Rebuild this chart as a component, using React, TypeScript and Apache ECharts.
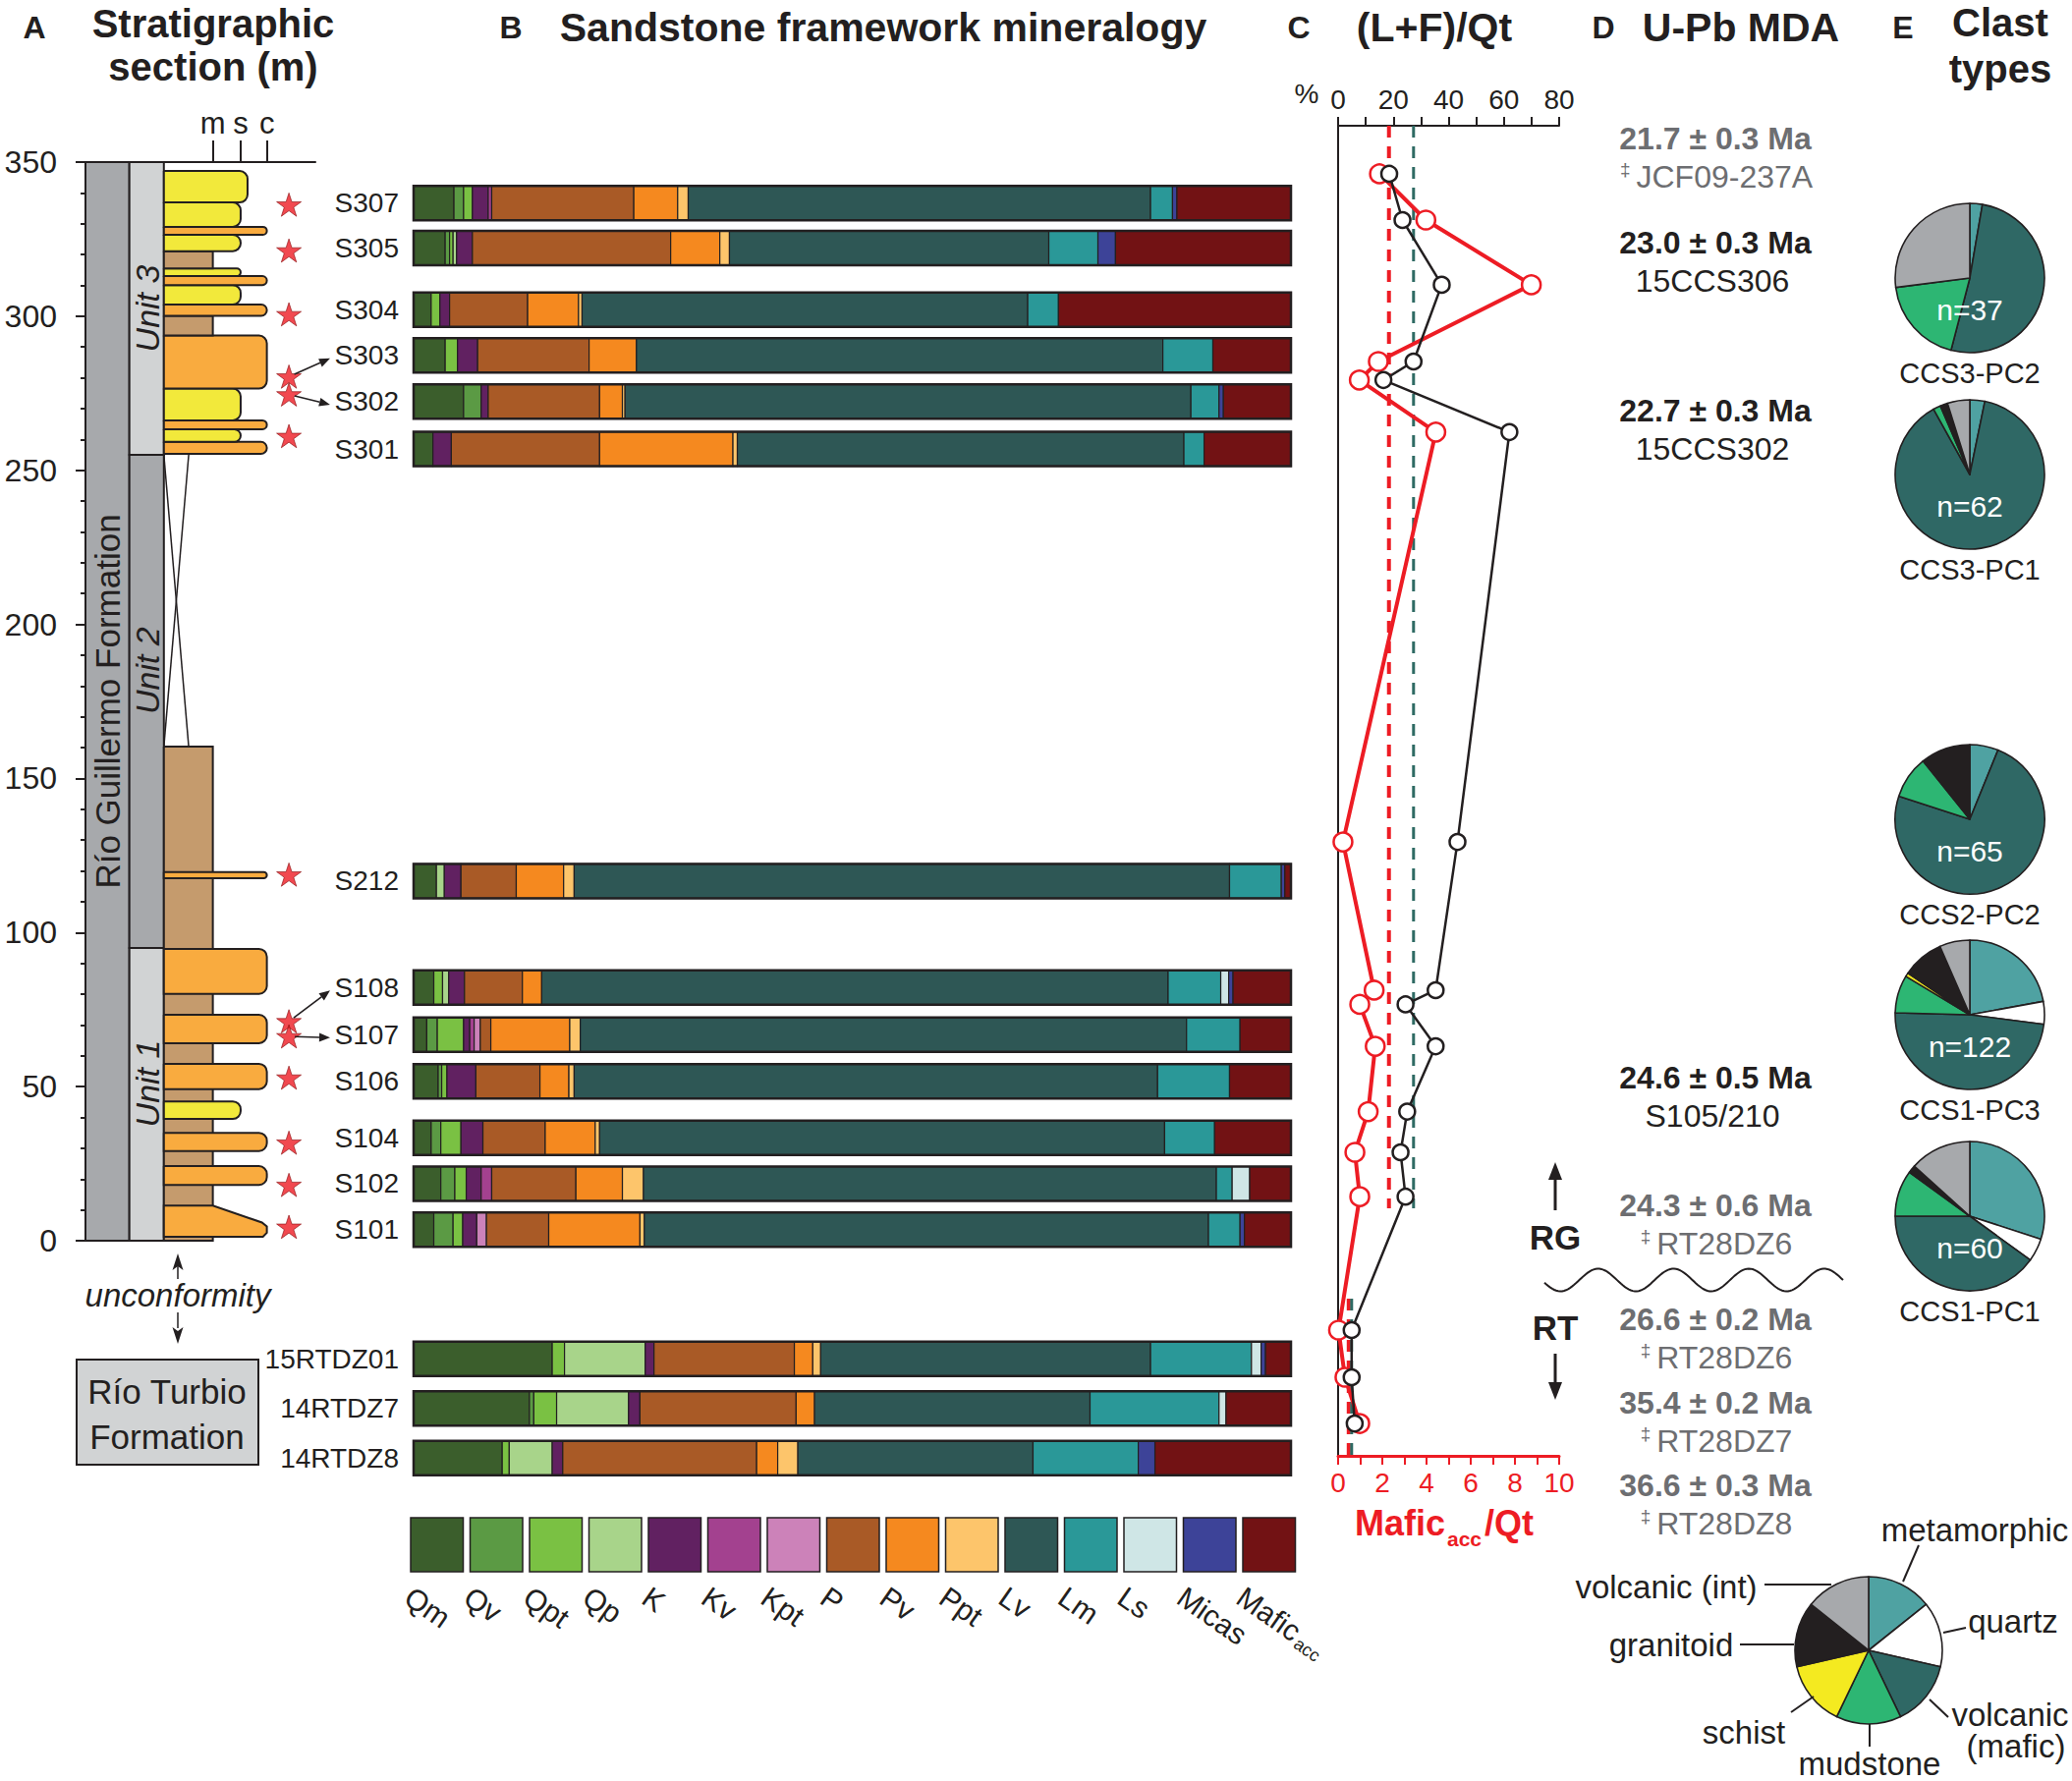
import React, { useEffect, useRef } from 'react';
import * as echarts from 'echarts';

const W = 2109;
const H = 1813;
const INK = '#231f20';
const MUTED = '#6d6e71';
const RED = '#ed1c24';
const FONT = '"Liberation Sans", Arial, Helvetica, sans-serif';

// ---------------- Panel A: stratigraphic section (heights in m) ----------------
const FORMATION_NAME = 'Río Guillermo Formation';
const UNIT_NAMES = ['Unit 1', 'Unit 2', 'Unit 3'];
const UNIT_BASES = [0, 95, 255];
const UNIT_TOPS = [95, 255, 350];
const UNIT_LABEL_HEIGHTS = [51, 185, 302.5];
const MUDSTONE_INTERVAL: [number, number] = [0, 160.3];
const COVERED_INTERVAL: [number, number] = [160.3, 255];
// [base, top, grain class (m mud, s sand, S coarser sand, c conglomerate), top at coarse edge]
const BEDS: Array<[number, number, string, number?]> = [
  [1.3, 11.4, 'c', 5.9],
  [18.1, 24.2, 'c'],
  [29.1, 35.0, 'c'],
  [39.5, 45.2, 's'],
  [49.2, 57.4, 'c'],
  [64.1, 73.3, 'c'],
  [80.1, 94.7, 'c'],
  [117.6, 119.6, 'c'],
  [255.3, 259.2, 'c'],
  [259.2, 263.3, 's'],
  [263.3, 266.2, 'c'],
  [266.2, 276.5, 's'],
  [276.5, 293.7, 'c'],
  [293.7, 300.1, 'm'],
  [300.1, 303.8, 'c'],
  [303.8, 310.1, 's'],
  [310.1, 313.0, 'c'],
  [313.0, 315.5, 's'],
  [315.5, 321.1, 'm'],
  [321.1, 326.4, 's'],
  [326.4, 329.0, 'c'],
  [329.0, 336.9, 's'],
  [336.9, 347.1, 'S'],
];
const GRAIN_LABELS = ['m', 's', 'c'];
const STAR_SAMPLES = ['S307', 'S305', 'S304', 'S303', 'S302', 'S301', 'S212', 'S108', 'S107', 'S106', 'S104', 'S102', 'S101'];
const STAR_HEIGHTS = [336.2, 321.3, 300.6, 280.4, 274.6, 261.1, 118.8, 71.2, 66.3, 52.9, 31.8, 18.1, 4.5];
const ARROWED_SAMPLES = ['S303', 'S302', 'S108', 'S107'];

// ---------------- Panel B: framework mineralogy (%) ----------------
const COMPONENTS = ['Qm', 'Qv', 'Qpt', 'Qp', 'K', 'Kv', 'Kpt', 'P', 'Pv', 'Ppt', 'Lv', 'Lm', 'Ls', 'Micas', 'Mafic'];
const COMPONENT_COLORS = ['#3b5e2c', '#5b9a44', '#7ac143', '#a8d48a', '#612161', '#a3418f', '#cc82b9', '#a95a26', '#f5891f', '#fdc56b', '#2e5755', '#2a9898', '#cfe6e6', '#3d4398', '#721214'];
const SAMPLES = ['S307', 'S305', 'S304', 'S303', 'S302', 'S301', 'S212', 'S108', 'S107', 'S106', 'S104', 'S102', 'S101', '15RTDZ01', '14RTDZ7', '14RTDZ8'];
// plotted height (m) of each composition bar; Río Turbio samples sit below the section
const SAMPLE_POS = [336.7, 322.1, 302.1, 287.3, 272.3, 256.9, 116.7, 82.2, 66.9, 51.7, 33.4, 18.5, 3.6, -38.3, -54.4, -70.5];
const COMPOSITION = [
  [4.6, 1.1, 1.0, 0, 1.8, 0.4, 0, 16.2, 5.0, 1.2, 52.7, 2.5, 0, 0.5, 13.0],
  [3.6, 0.5, 0.4, 0.4, 1.8, 0, 0, 22.6, 5.6, 1.1, 36.4, 5.6, 0, 2.0, 20.0],
  [2.0, 0, 1.0, 0, 1.1, 0, 0, 8.9, 5.8, 0.4, 50.8, 3.5, 0, 0, 26.5],
  [3.6, 0, 1.4, 0, 2.3, 0, 0, 12.7, 5.4, 0, 60.0, 5.7, 0, 0, 8.9],
  [5.7, 2.0, 0, 0, 0.8, 0, 0, 12.7, 2.6, 0.3, 64.5, 3.2, 0, 0.5, 7.7],
  [2.2, 0, 0, 0, 2.1, 0, 0, 16.9, 15.2, 0.5, 50.9, 2.3, 0, 0, 9.9],
  [2.6, 0, 0, 0.9, 1.9, 0, 0, 6.3, 5.4, 1.2, 74.7, 5.9, 0, 0.4, 0.7],
  [2.3, 0, 1.0, 0.7, 1.8, 0, 0, 6.6, 2.2, 0, 71.4, 6.0, 0.9, 0.5, 6.6],
  [1.5, 1.2, 3.0, 0, 0.7, 0.5, 0.7, 1.2, 9.0, 1.2, 69.1, 6.1, 0, 0, 5.8],
  [2.8, 0.4, 0.6, 0, 3.3, 0, 0, 7.3, 3.3, 0.6, 66.5, 8.2, 0, 0, 7.0],
  [2.0, 1.1, 2.3, 0, 2.5, 0, 0, 7.1, 5.7, 0.5, 64.4, 5.7, 0, 0, 8.7],
  [3.1, 1.6, 1.3, 0, 1.7, 1.2, 0, 9.6, 5.3, 2.4, 65.3, 1.8, 2.0, 0, 4.7],
  [2.3, 2.2, 1.1, 0, 1.6, 0, 1.1, 7.1, 10.4, 0.5, 64.3, 3.6, 0, 0.5, 5.3],
  [15.8, 0, 1.4, 9.2, 1.0, 0, 0, 16.0, 2.1, 0.9, 37.6, 11.5, 1.1, 0.5, 2.9],
  [13.2, 0.5, 2.6, 8.2, 1.3, 0, 0, 17.8, 2.1, 0, 31.4, 14.7, 0.8, 0, 7.4],
  [10.1, 0, 0.8, 4.9, 1.2, 0, 0, 22.1, 2.4, 2.3, 26.8, 12.0, 0, 1.9, 15.5],
];

// ---------------- Panel C: ratios ----------------
const RATIO_POS = [346.2, 331.2, 310.2, 285.3, 279.3, 262.4, 129.4, 81.3, 76.7, 63.1, 41.9, 28.7, 14.3, -29.0, -44.3, -59.3];
const LF_QT = [18.5, 23.3, 37.5, 27.3, 16.4, 62.0, 43.2, 35.3, 24.4, 35.3, 25.0, 22.6, 24.4, 4.9, 4.9, 6.0];
const MAFIC_QT = [1.87, 3.97, 8.74, 1.82, 0.96, 4.42, 0.22, 1.63, 0.98, 1.68, 1.36, 0.76, 0.98, 0.02, 0.31, 0.98];
const MEAN_SPANS: Array<[number, number]> = [[361.8, 10.5], [-18.8, -69.8]]; // RG, RT
const LF_MEANS = [27.3, 4.9];
const MAFIC_MEANS = [2.3, 0.48];

// ---------------- Panel D: U-Pb maximum depositional ages ----------------
const MDA_AGES = ['21.7 ± 0.3 Ma', '23.0 ± 0.3 Ma', '22.7 ± 0.3 Ma', '24.6 ± 0.5 Ma', '24.3 ± 0.6 Ma', '26.6 ± 0.2 Ma', '35.4 ± 0.2 Ma', '36.6 ± 0.3 Ma'];
const MDA_SAMPLES = ['JCF09-237A', '15CCS306', '15CCS302', 'S105/210', 'RT28DZ6', 'RT28DZ6', 'RT28DZ7', 'RT28DZ8'];
const MDA_FROM_LITERATURE = [true, false, false, false, true, true, true, true];

// ---------------- Panel E: clast types ----------------
const CLAST_TYPES = ['metamorphic', 'quartz', 'volcanic (mafic)', 'mudstone', 'schist', 'granitoid', 'volcanic (int)'];
const CLAST_COLORS = ['#4fa2a2', '#ffffff', '#2f6865', '#2db673', '#f4ea20', '#231f20', '#a7a9ac'];
const PIE_NAMES = ['CCS3-PC2', 'CCS3-PC1', 'CCS2-PC2', 'CCS1-PC3', 'CCS1-PC1'];
const PIE_COUNTS = [
  [1, 0, 19, 7, 0, 0, 10],
  [2, 0, 55, 1, 0, 1, 3],
  [4, 0, 48, 6, 0, 7, 0],
  [27, 6, 59, 10, 1, 11, 8],
  [18, 3, 24, 6, 0, 1, 8],
];
const LEGEND_PIE = [1, 1, 1, 1, 1, 1, 1];

// ---------------- layout ----------------
const A_GRID = { left: 87, top: 165, width: 234, height: 1098 };
const B_GRID = { left: 421, top: 128, width: 893, height: 1354 };
const C_GRID = { left: 1362, top: 128, width: 225, height: 1354 };
const Y_RANGE = { min: -69.8, max: 361.8 };
const AX = { formR: 19.1, unitR: 34.1, cover: 44.9, star: 88.5, arrowEnd: 106.4 } as const;
const GRAIN_X: Record<string, number> = { m: 55.4, s: 67.5, S: 70.5, c: 78.9 };
const GRAIN_TICKS = [GRAIN_X.m, GRAIN_X.s, GRAIN_X.c];
const LITH_COLOR: Record<string, string> = { m: '#c59b6d', s: '#f2e93b', S: '#f2e93b', c: '#f9ab3f' };
const BAR_H = 35;
const PIE_CX = 2005;
const PIE_CY = [283, 483, 834, 1033, 1238];
const PIE_R = 76;
const LEGEND_PIE_C = [1902, 1680];
const MDA_Y = [141, 247, 418, 1097, 1227, 1343, 1428, 1512];

const STAR_PATH = 'path://M50,0 L61.2,34.5 L97.6,34.5 L68.2,55.9 L79.4,90.5 L50,69.1 L20.6,90.5 L31.8,55.9 L2.4,34.5 L38.8,34.5 Z';

function T(x: number, y: number, text: string, o: any = {}) {
  const { rotation, align, verticalAlign, z, ...rest } = o;
  const a = align || 'center';
  const va = verticalAlign || 'middle';
  return {
    type: 'text',
    x,
    y,
    z: z ?? 10,
    rotation: rotation || 0,
    silent: true,
    style: {
      text,
      fill: INK,
      fontFamily: FONT,
      fontSize: 30,
      ...rest,
      align: a,
      verticalAlign: va,
      textAlign: a,
      textVerticalAlign: va,
    },
  };
}

function L(x1: number, y1: number, x2: number, y2: number, w = 2, c = INK) {
  return { type: 'line', silent: true, z: 10, shape: { x1, y1, x2, y2 }, style: { stroke: c, lineWidth: w } };
}

function P(points: number[][], c = INK) {
  return { type: 'polygon', silent: true, z: 10, shape: { points }, style: { fill: c } };
}

function buildGraphic() {
  const g: any[] = [];
  // titles
  g.push(T(35, 28, 'A', { fontSize: 32, fontWeight: 'bold' }));
  g.push(T(217, 24, 'Stratigraphic', { fontSize: 40, fontWeight: 'bold' }));
  g.push(T(217, 68, 'section (m)', { fontSize: 40, fontWeight: 'bold' }));
  g.push(T(520, 28, 'B', { fontSize: 32, fontWeight: 'bold' }));
  g.push(T(899, 28, 'Sandstone framework mineralogy', { fontSize: 41, fontWeight: 'bold' }));
  g.push(T(1322, 28, 'C', { fontSize: 32, fontWeight: 'bold' }));
  g.push(T(1460, 28, '(L+F)/Qt', { fontSize: 41, fontWeight: 'bold' }));
  g.push(T(1632, 28, 'D', { fontSize: 32, fontWeight: 'bold' }));
  g.push(T(1772, 28, 'U-Pb MDA', { fontSize: 41, fontWeight: 'bold' }));
  g.push(T(1937, 28, 'E', { fontSize: 32, fontWeight: 'bold' }));
  g.push(T(2036, 23, 'Clast', { fontSize: 40, fontWeight: 'bold' }));
  g.push(T(2036, 70, 'types', { fontSize: 40, fontWeight: 'bold' }));

  // unconformity + Río Turbio box
  g.push(T(181, 1318, 'unconformity', { fontSize: 33, fontStyle: 'italic' }));
  g.push(L(181, 1302, 181, 1286, 1.5));
  g.push(P([[181, 1276], [175.5, 1293], [181, 1289], [186.5, 1293]]));
  g.push(L(181, 1336, 181, 1352, 1.5));
  g.push(P([[181, 1368], [175.5, 1351], [181, 1355], [186.5, 1351]]));
  g.push({ type: 'rect', silent: true, z: 5, shape: { x: 78, y: 1384, width: 185, height: 107 }, style: { fill: '#d1d3d4', stroke: INK, lineWidth: 2 } });
  g.push(T(170, 1416, 'Río Turbio', { fontSize: 35 }));
  g.push(T(170, 1462, 'Formation', { fontSize: 35 }));

  // component legend
  COMPONENTS.forEach((name, i) => {
    const x = 418 + 60.5 * i;
    g.push({ type: 'rect', silent: true, z: 5, shape: { x, y: 1545, width: 53.5, height: 55 }, style: { fill: COMPONENT_COLORS[i], stroke: INK, lineWidth: 1.5 } });
    const rot = -35 * Math.PI / 180;
    g.push(T(x + 6, 1610, name, { align: 'left', verticalAlign: 'top', rotation: rot, fontSize: 30 }));
    if (name === 'Mafic') {
      g.push(T(x + 6 + 53, 1610 + 54, 'acc', { align: 'left', verticalAlign: 'top', rotation: rot, fontSize: 18 }));
    }
  });

  // panel C extras
  g.push(T(1330, 95, '%', { fontSize: 28 }));
  g.push(T(1471, 1550, 'Mafic', { fontSize: 36, fontWeight: 'bold', fill: RED, align: 'right' }));
  g.push(T(1473, 1566, 'acc', { fontSize: 21, fontWeight: 'bold', fill: RED, align: 'left' }));
  g.push(T(1511, 1550, '/Qt', { fontSize: 36, fontWeight: 'bold', fill: RED, align: 'left' }));

  // panel D
  MDA_AGES.forEach((age, i) => {
    const lit = MDA_FROM_LITERATURE[i];
    const col = lit ? MUTED : INK;
    g.push(T(1746, MDA_Y[i], age, { fontSize: 32, fontWeight: 'bold', fill: col }));
    if (lit) {
      g.push({
        type: 'text', x: 1747, y: MDA_Y[i] + 39, z: 10, silent: true,
        style: {
          text: '{d|‡}{n|' + MDA_SAMPLES[i] + '}',
          align: 'center', verticalAlign: 'middle', textAlign: 'center', textVerticalAlign: 'middle',
          rich: {
            d: { fontSize: 19, fontFamily: FONT, fill: MUTED, verticalAlign: 'top', lineHeight: 34, padding: [0, 6, 10, 0] },
            n: { fontSize: 32, fontFamily: FONT, fill: MUTED, lineHeight: 34 },
          },
        },
      });
    } else {
      g.push(T(1743, MDA_Y[i] + 39, MDA_SAMPLES[i], { fontSize: 32 }));
    }
  });
  g.push(T(1583, 1259, 'RG', { fontSize: 35, fontWeight: 'bold' }));
  g.push(T(1583, 1351, 'RT', { fontSize: 35, fontWeight: 'bold' }));
  g.push(L(1583, 1232, 1583, 1196, 3));
  g.push(P([[1583, 1183], [1576, 1201], [1590, 1201]]));
  g.push(L(1583, 1378, 1583, 1412, 3));
  g.push(P([[1583, 1425], [1576, 1407], [1590, 1407]]));
  const wave: number[][] = [];
  for (let x = 1572; x <= 1876; x += 2) {
    wave.push([x, 1303 - 11.5 * Math.cos((2 * Math.PI * (x - 1626.7)) / 76.7)]);
  }
  g.push({ type: 'polyline', silent: true, z: 10, shape: { points: wave }, style: { stroke: INK, lineWidth: 2, fill: null } });

  // panel E labels
  PIE_NAMES.forEach((name, i) => {
    const n = PIE_COUNTS[i].reduce((a, b) => a + b, 0);
    g.push(T(PIE_CX, PIE_CY[i] + 32, 'n=' + n, { fontSize: 30, fill: '#ffffff', z: 100 }));
    g.push(T(PIE_CX, PIE_CY[i] + 97, name, { fontSize: 29 }));
  });
  g.push(T(2010, 1557, 'metamorphic', { fontSize: 33 }));
  g.push(L(1953, 1573, 1937, 1610, 2));
  g.push(T(2049, 1650, 'quartz', { fontSize: 33 }));
  g.push(L(2001, 1657, 1978, 1662, 2));
  g.push(T(1696, 1615, 'volcanic (int)', { fontSize: 33 }));
  g.push(L(1796, 1613, 1864, 1613, 2));
  g.push(T(1701, 1674, 'granitoid', { fontSize: 33 }));
  g.push(L(1771, 1674, 1826, 1674, 2));
  g.push(T(1775, 1763, 'schist', { fontSize: 33 }));
  g.push(L(1823, 1743, 1846, 1727, 2));
  g.push(T(1903, 1795, 'mudstone', { fontSize: 33 }));
  g.push(L(1903, 1755, 1903, 1778, 2));
  g.push(T(2046, 1745, 'volcanic', { fontSize: 33 }));
  g.push(T(2052, 1777, '(mafic)', { fontSize: 33 }));
  g.push(L(1964, 1730, 1983, 1748, 2));
  return g;
}

function buildOption(): any {
  const columnData = [[0, 350], ...UNIT_BASES.map((b, i) => [b, UNIT_TOPS[i]])];
  const lithData: Array<[number, number, string, number?]> = [[MUDSTONE_INTERVAL[0], MUDSTONE_INTERVAL[1], 'm'], ...BEDS];

  const series: any[] = [
    {
      type: 'custom', name: 'column', xAxisIndex: 0, yAxisIndex: 0, silent: true, z: 2,
      data: columnData,
      renderItem: (params: any, api: any) => {
        const i = params.dataIndex;
        const base = columnData[i][0];
        const top = columnData[i][1];
        const x0 = i === 0 ? 0 : AX.formR;
        const x1 = i === 0 ? AX.formR : AX.unitR;
        const p0 = api.coord([x0, top]);
        const p1 = api.coord([x1, base]);
        const fill = i === 0 || i === 2 ? '#a7a9ac' : '#d1d3d4';
        const labelH = i === 0 ? (base + top) / 2 : UNIT_LABEL_HEIGHTS[i - 1];
        const lp = api.coord([(x0 + x1) / 2, labelH]);
        return {
          type: 'group',
          children: [
            { type: 'rect', shape: { x: p0[0], y: p0[1], width: p1[0] - p0[0], height: p1[1] - p0[1] }, style: { fill, stroke: INK, lineWidth: 2 } },
            {
              type: 'text', x: lp[0] + (i === 0 ? 0 : 1), y: lp[1], rotation: Math.PI / 2,
              style: {
                text: i === 0 ? FORMATION_NAME : UNIT_NAMES[i - 1],
                fontFamily: FONT, fontSize: i === 0 ? 35 : 34, fontStyle: i === 0 ? 'normal' : 'italic', fill: INK,
                align: 'center', verticalAlign: 'middle', textAlign: 'center', textVerticalAlign: 'middle',
              },
            },
          ],
        };
      },
    },
    {
      type: 'custom', name: 'lithology', xAxisIndex: 0, yAxisIndex: 0, silent: true, z: 3,
      data: lithData.map((b) => [b[0], b[1]]),
      renderItem: (params: any, api: any) => {
        const b = lithData[params.dataIndex];
        const grain = b[2];
        const xl = api.coord([AX.unitR, b[1]])[0];
        const xr = api.coord([GRAIN_X[grain], b[1]])[0];
        const yt = api.coord([0, b[1]])[1];
        const yb = api.coord([0, b[0]])[1];
        const style = { fill: LITH_COLOR[grain], stroke: INK, lineWidth: 2 };
        if (b[3] != null) {
          const xm = api.coord([GRAIN_X.m, b[1]])[0];
          const yr = api.coord([0, b[3]])[1];
          return {
            type: 'polygon',
            shape: { points: [[xl, yb], [xr - 4, yb], [xr, yb - 4], [xr, yr + 4], [xr - 5, yr], [xm, yt], [xl, yt]] },
            style,
          };
        }
        const h = yb - yt;
        const r = grain === 'm' ? 0 : Math.min(8, h / 2);
        return { type: 'rect', shape: { x: xl, y: yt, width: xr - xl, height: h, r: [0, r, r, 0] }, style };
      },
    },
    {
      type: 'custom', name: 'covered', xAxisIndex: 0, yAxisIndex: 0, silent: true, z: 3,
      data: [COVERED_INTERVAL],
      renderItem: (params: any, api: any) => {
        const a = api.coord([AX.unitR, COVERED_INTERVAL[1]]);
        const b = api.coord([AX.cover, COVERED_INTERVAL[0]]);
        const c = api.coord([AX.cover, COVERED_INTERVAL[1]]);
        const d = api.coord([AX.unitR, COVERED_INTERVAL[0]]);
        return {
          type: 'group',
          children: [
            { type: 'line', shape: { x1: a[0], y1: a[1], x2: b[0], y2: b[1] }, style: { stroke: INK, lineWidth: 1.5 } },
            { type: 'line', shape: { x1: c[0], y1: c[1], x2: d[0], y2: d[1] }, style: { stroke: INK, lineWidth: 1.5 } },
          ],
        };
      },
    },
    {
      type: 'scatter', name: 'samples', xAxisIndex: 0, yAxisIndex: 0, silent: true, z: 4,
      symbol: STAR_PATH, symbolSize: 25, symbolKeepAspect: true,
      itemStyle: { color: RED, borderColor: '#8a0f12', borderWidth: 0.8 },
      data: STAR_HEIGHTS.map((h) => [AX.star, h]),
    },
    {
      type: 'custom', name: 'sample arrows', xAxisIndex: 0, yAxisIndex: 0, silent: true, z: 5,
      data: ARROWED_SAMPLES.map((s) => [STAR_HEIGHTS[STAR_SAMPLES.indexOf(s)], SAMPLE_POS[SAMPLES.indexOf(s)]]),
      renderItem: (params: any, api: any) => {
        const s = ARROWED_SAMPLES[params.dataIndex];
        const starH = STAR_HEIGHTS[STAR_SAMPLES.indexOf(s)];
        const barPos = SAMPLE_POS[SAMPLES.indexOf(s)];
        const p0 = api.coord([AX.star, starH]);
        const p1 = api.coord([AX.arrowEnd, barPos - 1]);
        const dx = p1[0] - p0[0];
        const dy = p1[1] - p0[1];
        const len = Math.sqrt(dx * dx + dy * dy);
        const ux = dx / len;
        const uy = dy / len;
        const sx = p0[0] + ux * 6;
        const sy = p0[1] + uy * 6;
        const bx = p1[0] - ux * 11;
        const by = p1[1] - uy * 11;
        return {
          type: 'group',
          children: [
            { type: 'line', shape: { x1: sx, y1: sy, x2: bx, y2: by }, style: { stroke: INK, lineWidth: 1.6 } },
            { type: 'polygon', shape: { points: [[p1[0], p1[1]], [bx - uy * 4.5, by + ux * 4.5], [bx + uy * 4.5, by - ux * 4.5]] }, style: { fill: INK } },
          ],
        };
      },
    },
    {
      type: 'custom', name: 'framework', xAxisIndex: 1, yAxisIndex: 1, silent: true, z: 3,
      data: SAMPLES.map((s, i) => [i, SAMPLE_POS[i]]),
      renderItem: (params: any, api: any) => {
        const i = params.dataIndex;
        const comp = COMPOSITION[i];
        const total = comp.reduce((a, b) => a + b, 0);
        const pos = SAMPLE_POS[i];
        const children: any[] = [];
        let acc = 0;
        comp.forEach((v, k) => {
          if (v <= 0) return;
          const share = (v / total) * 100;
          const a = api.coord([acc, pos]);
          const b = api.coord([acc + share, pos]);
          children.push({
            type: 'rect',
            shape: { x: a[0], y: a[1] - BAR_H / 2, width: b[0] - a[0], height: BAR_H },
            style: { fill: COMPONENT_COLORS[k], stroke: INK, lineWidth: 1.2 },
          });
          acc += share;
        });
        const l = api.coord([0, pos]);
        const r = api.coord([100, pos]);
        children.push({ type: 'rect', shape: { x: l[0], y: l[1] - BAR_H / 2, width: r[0] - l[0], height: BAR_H }, style: { fill: null, stroke: INK, lineWidth: 2.5 } });
        children.push({
          type: 'text', x: l[0] - 15, y: l[1],
          style: { text: SAMPLES[i], fontFamily: FONT, fontSize: 28, fill: INK, align: 'right', verticalAlign: 'middle', textAlign: 'right', textVerticalAlign: 'middle' },
        });
        return { type: 'group', children };
      },
    },
  ];

  // panel C mean lines
  MEAN_SPANS.forEach((span, k) => {
    series.push({
      type: 'line', name: 'Mafic/Qt mean', xAxisIndex: 3, yAxisIndex: 2, silent: true, z: 2, symbol: 'none',
      lineStyle: { color: RED, width: 4, type: [12, 9] },
      data: [[MAFIC_MEANS[k], span[0]], [MAFIC_MEANS[k], span[1]]],
    });
    series.push({
      type: 'line', name: '(L+F)/Qt mean', xAxisIndex: 2, yAxisIndex: 2, silent: true, z: 2, symbol: 'none',
      lineStyle: { color: '#2e6a63', width: 3, type: [12, 9] },
      data: [[LF_MEANS[k], span[0]], [LF_MEANS[k], span[1]]],
    });
  });
  series.push({
    type: 'line', name: 'Mafic_acc/Qt', xAxisIndex: 3, yAxisIndex: 2, silent: true, z: 3,
    symbol: 'circle', symbolSize: 19, showSymbol: true,
    lineStyle: { color: RED, width: 4 },
    itemStyle: { color: '#ffffff', borderColor: RED, borderWidth: 2.5 },
    data: MAFIC_QT.map((v, i) => [v, RATIO_POS[i]]),
  });
  series.push({
    type: 'line', name: '(L+F)/Qt', xAxisIndex: 2, yAxisIndex: 2, silent: true, z: 4,
    symbol: 'circle', symbolSize: 16, showSymbol: true,
    lineStyle: { color: INK, width: 2.5 },
    itemStyle: { color: '#ffffff', borderColor: INK, borderWidth: 2.5 },
    data: LF_QT.map((v, i) => [v, RATIO_POS[i]]),
  });

  // panel E pies
  PIE_COUNTS.forEach((counts, i) => {
    series.push({
      type: 'pie', name: PIE_NAMES[i], center: [PIE_CX, PIE_CY[i]], radius: PIE_R, startAngle: 90, clockwise: true,
      silent: true, z: 2, label: { show: false }, labelLine: { show: false },
      itemStyle: { borderColor: INK, borderWidth: 1.6 },
      data: counts.map((v, k) => ({ name: CLAST_TYPES[k], value: v, itemStyle: { color: CLAST_COLORS[k] } })).filter((d) => d.value > 0),
    });
  });
  series.push({
    type: 'pie', name: 'clast legend', center: LEGEND_PIE_C, radius: 75, startAngle: 90, clockwise: true,
    silent: true, z: 2, label: { show: false }, labelLine: { show: false },
    itemStyle: { borderColor: INK, borderWidth: 1.6 },
    data: LEGEND_PIE.map((v, k) => ({ name: CLAST_TYPES[k], value: v, itemStyle: { color: CLAST_COLORS[k] } })),
  });

  const noAxisDecor = { show: false };
  return {
    animation: false,
    backgroundColor: '#ffffff',
    textStyle: { fontFamily: FONT },
    grid: [
      { ...A_GRID, containLabel: false },
      { ...B_GRID, containLabel: false },
      { ...C_GRID, containLabel: false },
    ],
    xAxis: [
      {
        gridIndex: 0, type: 'value', min: 0, max: 100, position: 'top',
        axisLine: { show: true, onZero: false, lineStyle: { color: INK, width: 2 } },
        axisTick: { show: true, customValues: GRAIN_TICKS, length: 22, lineStyle: { color: INK, width: 2 } },
        axisLabel: {
          show: true, customValues: GRAIN_TICKS, margin: 24, fontSize: 31, color: INK, fontFamily: FONT,
          formatter: (v: number) => GRAIN_LABELS[GRAIN_TICKS.indexOf(v)] ?? '',
        },
        splitLine: noAxisDecor,
      },
      { gridIndex: 1, type: 'value', min: 0, max: 100, show: false, axisLine: { onZero: false } },
      {
        gridIndex: 2, type: 'value', min: 0, max: 80, interval: 20, position: 'top',
        axisLine: { show: true, onZero: false, lineStyle: { color: INK, width: 2 } },
        axisTick: { show: true, length: 9, lineStyle: { color: INK, width: 2 } },
        minorTick: { show: true, splitNumber: 2, length: 9, lineStyle: { color: INK, width: 2 } },
        axisLabel: { margin: 13, fontSize: 28, color: INK, fontFamily: FONT },
        splitLine: noAxisDecor, minorSplitLine: noAxisDecor,
      },
      {
        gridIndex: 2, type: 'value', min: 0, max: 10, interval: 2, position: 'bottom',
        axisLine: { show: true, onZero: false, lineStyle: { color: RED, width: 3 } },
        axisTick: { show: true, length: 9, lineStyle: { color: RED, width: 2 } },
        minorTick: { show: true, splitNumber: 2, length: 9, lineStyle: { color: RED, width: 2 } },
        axisLabel: { margin: 13, fontSize: 28, color: RED, fontFamily: FONT },
        splitLine: noAxisDecor, minorSplitLine: noAxisDecor,
      },
    ],
    yAxis: [
      {
        gridIndex: 0, type: 'value', min: 0, max: 350, interval: 50,
        axisLine: { show: true, onZero: false, lineStyle: { color: INK, width: 2 } },
        axisTick: { show: true, length: 10, lineStyle: { color: INK, width: 2 } },
        minorTick: { show: true, splitNumber: 5, length: 5, lineStyle: { color: INK, width: 2 } },
        axisLabel: { margin: 29, fontSize: 32, color: INK, fontFamily: FONT },
        splitLine: noAxisDecor, minorSplitLine: noAxisDecor,
      },
      { gridIndex: 1, type: 'value', ...Y_RANGE, show: false, axisLine: { onZero: false } },
      {
        gridIndex: 2, type: 'value', ...Y_RANGE,
        axisLine: { show: true, onZero: false, lineStyle: { color: INK, width: 2 } },
        axisTick: { show: false }, axisLabel: { show: false }, splitLine: noAxisDecor,
      },
    ],
    series,
    graphic: { elements: buildGraphic() },
  };
}

export default function App() {
  const ref = useRef<HTMLDivElement>(null);
  useEffect(() => {
    if (!ref.current) return;
    const chart = echarts.init(ref.current, null, { renderer: 'svg', width: W, height: H });
    chart.setOption(buildOption());
    return () => chart.dispose();
  }, []);
  return <div ref={ref} style={{ position: 'absolute', left: 0, top: 0, width: W, height: H, background: '#ffffff' }} />;
}
